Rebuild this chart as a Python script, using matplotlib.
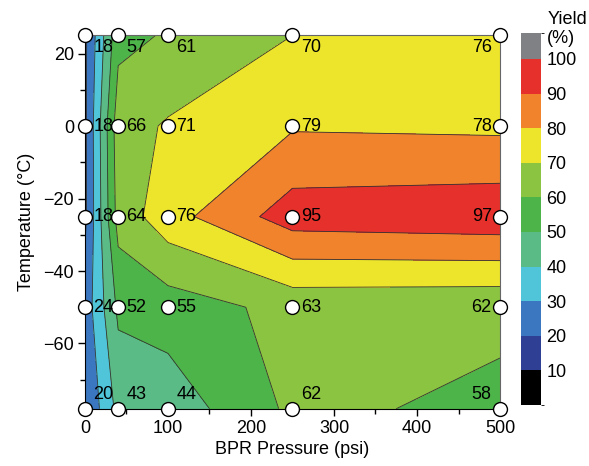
#!/usr/bin/env python3
"""Yield contour map: BPR pressure vs temperature."""

import numpy as np
import matplotlib
matplotlib.use("Agg")
import matplotlib.pyplot as plt
from matplotlib.colors import ListedColormap, BoundaryNorm
from matplotlib.cm import ScalarMappable

plt.rcParams["font.family"] = ["Liberation Sans", "DejaVu Sans"]

pressure = [0, 40, 100, 250, 500]          # psi
temperature = [-78, -50, -25, 0, 25]       # degC
# yield[row = temperature, col = pressure]
yield_pct = [
    [20, 43, 44, 62, 58],
    [24, 52, 55, 63, 62],
    [18, 64, 76, 95, 97],
    [18, 66, 71, 79, 78],
    [18, 57, 61, 70, 76],
]
levels = [0, 10, 20, 30, 40, 50, 60, 70, 80, 90, 100, 107.5]
band_colors = ["#000000", "#2e3f94", "#3b77c0", "#50c4d9", "#5bbb86",
               "#4db44a", "#8bc440", "#ece52b", "#f0832b", "#e6302b", "#808184"]
cbar_ticks = [10, 20, 30, 40, 50, 60, 70, 80, 90, 100]

X, Y = np.meshgrid(pressure, temperature)
Z = np.array(yield_pct, dtype=float)
cmap = ListedColormap(band_colors)
norm = BoundaryNorm(levels, cmap.N)

fig = plt.figure(figsize=(5.89, 4.66), dpi=100)
ax = fig.add_axes([0.1443, 0.1229, 0.7046, 0.8011])

ax.contourf(X, Y, Z, levels=levels, cmap=cmap, norm=norm)
ax.contour(X, Y, Z, levels=levels[1:-1], colors="#333333", linewidths=0.6)

ax.plot(X.ravel(), Y.ravel(), "o", ms=10, mfc="white", mec="black",
        mew=1.0, clip_on=False, zorder=5)

for i, t in enumerate(temperature):
    for j, p in enumerate(pressure):
        dx, ha = (6, "left") if p < 500 else (-6, "right")
        dy = 0
        if t == 25:
            dy = -9
        elif t == -78:
            dy = 10
        ax.annotate(str(yield_pct[i][j]), (p, t), xytext=(dx, dy),
                    textcoords="offset points", ha=ha, va="center",
                    fontsize=13, zorder=6)

ax.set_xlim(0, 500)
ax.set_ylim(-78, 25)
ax.set_xticks([0, 100, 200, 300, 400, 500])
ax.set_xticks(np.arange(50, 500, 100), minor=True)
ax.set_yticks([-60, -40, -20, 0, 20])
ax.set_yticks([-70, -50, -30, -10, 10], minor=True)
ax.tick_params(labelsize=13, length=5, width=1, color="black", pad=3)
ax.tick_params(which="minor", length=3.5, width=1)
for side in ("top", "right"):
    ax.spines[side].set_color("#666666")
    ax.spines[side].set_linewidth(0.8)
ax.set_xlabel("BPR Pressure (psi)", fontsize=13, labelpad=3)
ax.set_ylabel("Temperature (°C)", fontsize=13, labelpad=6)

cax = fig.add_axes([0.8846, 0.1309, 0.034, 0.7983])
cb = fig.colorbar(ScalarMappable(norm=norm, cmap=cmap), cax=cax,
                  boundaries=levels, spacing="proportional")
cb.set_ticks(cbar_ticks)
cb.outline.set_visible(False)
cax.tick_params(length=0, labelsize=13, pad=4)
fig.text(0.929, 0.977, "Yield\n(%)", fontsize=13, ha="left", va="top",
         linespacing=1.15)

fig.savefig("out.png", dpi=100)
